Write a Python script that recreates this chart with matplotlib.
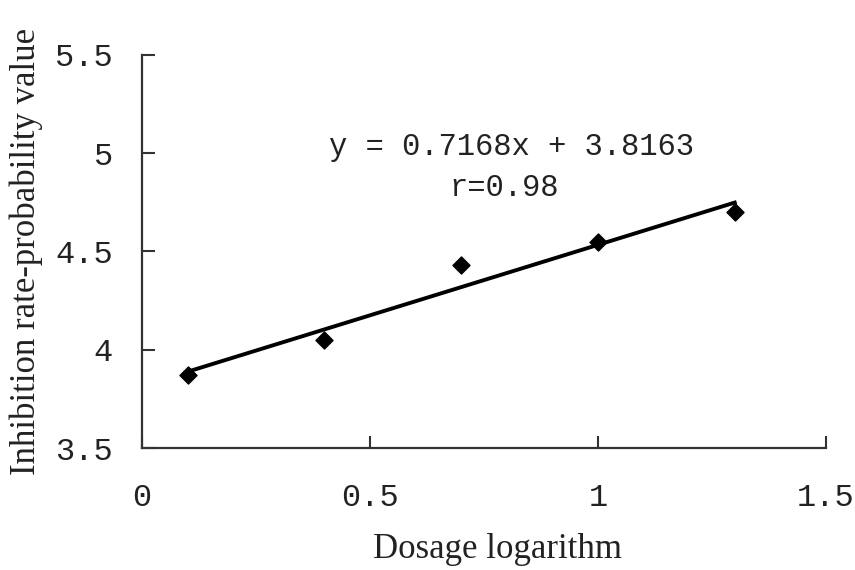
import matplotlib
matplotlib.use("Agg")
import matplotlib.pyplot as plt
import numpy as np

# data
dose_log = [0.1, 0.4, 0.7, 1.0, 1.3]
probit = [3.87, 4.05, 4.43, 4.55, 4.70]
slope, intercept = 0.7168, 3.8163
x_ticks = [0, 0.5, 1, 1.5]
x_tick_labels = ["0", "0.5", "1", "1.5"]
y_ticks = [3.5, 4, 4.5, 5, 5.5]
y_tick_labels = ["3.5", "4", "4.5", "5", "5.5"]

SERIF = ["Liberation Serif", "DejaVu Serif"]
MONO = ["Liberation Mono", "DejaVu Sans Mono"]
INK = "#222222"

fig = plt.figure(figsize=(8.55, 5.7), dpi=100)
ax = fig.add_axes([0.166, 0.214, 0.800, 0.690])

ax.scatter(dose_log, probit, marker="D", s=75, color="black", zorder=3)
fit_x = np.array([dose_log[0], dose_log[-1]])
ax.plot(fit_x, slope * fit_x + intercept, color="black", linewidth=2.8, zorder=2)

ax.set_xlim(0, 1.5)
ax.set_ylim(3.5, 5.5)
ax.set_xticks(x_ticks)
ax.set_xticklabels(x_tick_labels, family=MONO, fontsize=23, color=INK)
ax.set_yticks(y_ticks)
ax.set_yticklabels(y_tick_labels, family=MONO, fontsize=23, color=INK)
ax.tick_params(direction="in", length=9, width=1.5, color="#333333")
ax.tick_params(axis="y", pad=21)
ax.tick_params(axis="x", pad=25)

for side in ("top", "right"):
    ax.spines[side].set_visible(False)
for side in ("left", "bottom"):
    ax.spines[side].set_linewidth(1.6)
    ax.spines[side].set_color("#333333")

ax.set_xlabel("Dosage logarithm", family=SERIF, fontsize=25, color=INK)
ax.set_ylabel("Inhibition rate-probability value", family=SERIF, fontsize=25, color=INK)
ax.xaxis.set_label_coords(0.52, -0.215)
ax.yaxis.set_label_coords(-0.145, 0.5)

ax.text(0.54, 0.765, f"y = {slope}x + {intercept}", transform=ax.transAxes,
        family=MONO, fontsize=22, ha="center", va="center", color=INK)
ax.text(0.53, 0.66, "r=0.98", transform=ax.transAxes,
        family=MONO, fontsize=22, ha="center", va="center", color=INK)

fig.savefig("out.png", dpi=100)
